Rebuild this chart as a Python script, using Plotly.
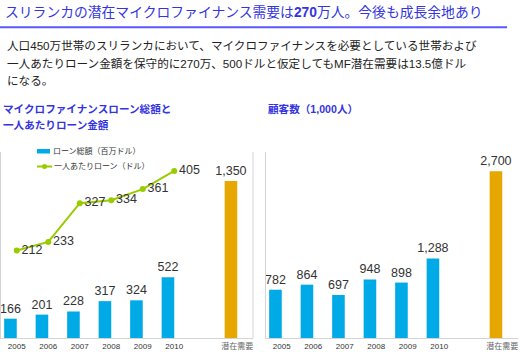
import plotly.graph_objects as go

W, H = 520, 361

# ---- data ----
years = ["2005", "2006", "2007", "2008", "2009", "2010"]
potential_label = "潜在需要"
loan_total = [166, 201, 228, 317, 324, 522]          # 百万ドル
loan_total_potential = 1350
loan_per_person = [212, 233, 327, 334, 361, 405]     # ドル
customers = [782, 864, 697, 948, 898, 1288]          # 1,000人
customers_potential = 2700

BLUE = "#00AAE6"
ORANGE = "#E6A800"
GREEN = "#99CC00"
TXT = "#333333"
TITLE_BLUE = "#3434E0"
AXIS = "#D4D4D4"
FONT = "Liberation Sans, Arial, Noto Sans CJK JP"

xpos = list(range(len(years)))
xpot = len(years) + 1
tickvals = xpos + [xpot]
ticktext = years + ['<span style="color:#666666">' + potential_label + '</span>']

def px(x):
    return x / W

def py(y):
    return (H - y) / H

fig = go.Figure()

def bar(x, y, color, xa, ya):
    fig.add_trace(go.Bar(x=x, y=y, width=0.4, offset=-0.4, marker_color=color,
                         marker_line_width=0,
                         text=[f"{v:,}" for v in y], textposition="outside",
                         constraintext="none",
                         textfont=dict(size=12.5, color=TXT, family=FONT),
                         cliponaxis=False, xaxis=xa, yaxis=ya, showlegend=False))

# left chart
bar(xpos, loan_total, BLUE, "x", "y")
bar([xpot], [loan_total_potential], ORANGE, "x", "y")
fig.add_trace(go.Scatter(x=xpos, y=loan_per_person, mode="lines+markers+text",
                         line=dict(color=GREEN, width=2),
                         marker=dict(color=GREEN, size=6),
                         text=[str(v) for v in loan_per_person],
                         textposition="middle right",
                         textfont=dict(size=12.5, color=TXT, family=FONT),
                         cliponaxis=False, xaxis="x", yaxis="y2", showlegend=False))

# right chart
bar(xpos, customers, BLUE, "x2", "y3")
bar([xpot], [customers_potential], ORANGE, "x2", "y3")

ydom = [py(338), py(152)]
xcommon = dict(range=[-0.5, 7.5], tickvals=tickvals, ticktext=ticktext,
               tickfont=dict(size=8, color=TXT, family=FONT), showgrid=False,
               zeroline=False, showline=True, linecolor=AXIS, linewidth=1,
               ticks="", fixedrange=True, automargin=False,
               ticklabelstandoff=0)
ycommon = dict(showgrid=False, zeroline=False, showticklabels=False,
               ticks="", automargin=False, fixedrange=True)

fig.update_layout(
    width=W, height=H,
    margin=dict(l=0, r=0, t=0, b=0, autoexpand=False),
    paper_bgcolor="white", plot_bgcolor="white",
    font=dict(family=FONT, color=TXT),
    barmode="overlay",
    xaxis=dict(domain=[px(1), px(253)], anchor="y", **xcommon),
    yaxis=dict(domain=ydom, range=[0, 1599], showline=True, linecolor=AXIS, **ycommon),
    yaxis2=dict(range=[0, 451], overlaying="y", showline=False, **ycommon),
    xaxis2=dict(domain=[px(266), px(518)], anchor="y3", **xcommon),
    yaxis3=dict(domain=ydom, range=[0, 3013], anchor="x2", showline=True,
                linecolor=AXIS, **ycommon),
)

shapes = [
    dict(type="line", xref="paper", yref="paper", x0=0, x1=px(507),
         y0=py(27.3), y1=py(27.3), line=dict(color="#5858FF", width=2)),
    dict(type="line", xref="x domain", yref="y domain", x0=1, x1=1, y0=0, y1=1,
         line=dict(color=AXIS, width=1)),
    dict(type="rect", xref="paper", yref="paper", x0=px(37), x1=px(50),
         y0=py(153.5), y1=py(149), fillcolor=BLUE, line=dict(width=0)),
    dict(type="line", xref="paper", yref="paper", x0=px(37), x1=px(52),
         y0=py(166.5), y1=py(166.5), line=dict(color=GREEN, width=2)),
    dict(type="circle", xref="paper", yref="paper", x0=px(42), x1=px(47),
         y0=py(169), y1=py(164), fillcolor=GREEN, line=dict(width=0)),
]
fig.update_layout(shapes=shapes)

def ann(text, x, y, size, color, xanchor="left"):
    fig.add_annotation(text=text, x=px(x), y=py(y), xref="paper", yref="paper",
                       xanchor=xanchor, yanchor="middle", showarrow=False,
                       font=dict(size=size, color=color, family=FONT))

ann("スリランカの潜在マイクロファイナンス需要は<b>270</b>万人。今後も成長余地あり", 3, 13, 13.8, TITLE_BLUE)
ann("人口450万世帯のスリランカにおいて、マイクロファイナンスを必要としている世帯および", 5, 45, 11.6, "#222222")
ann("一人あたりローン金額を保守的に270万、500ドルと仮定してもMF潜在需要は13.5億ドル", 5, 63, 11.6, "#222222")
ann("になる。", 5, 81, 11.6, "#222222")
ann("<b>マイクロファイナンスローン総額と</b>", 1, 109, 10.6, TITLE_BLUE)
ann("<b>一人あたりローン金額</b>", 1, 125, 10.6, TITLE_BLUE)
ann("<b>顧客数（1,000人）</b>", 266, 109, 10.6, TITLE_BLUE)
ann("ローン総額（百万ドル）", 51, 151, 8, TXT)
ann("一人あたりローン（ドル）", 52, 166.5, 8, TXT)

fig.write_html("out.html", config={"displayModeBar": False},
               post_script="document.body.style.margin='0';document.body.style.padding='0';")
